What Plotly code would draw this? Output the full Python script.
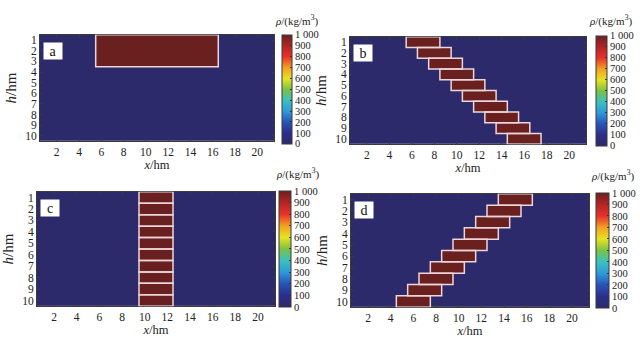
import plotly.graph_objects as go

# ---------------- data ----------------
x_cells = list(range(1, 22))          # x/hm cell centres
h_cells = list(range(1, 11))          # h/hm cell centres
rho_bg = 0
rho_block = 1000

a_rows = [1, 2, 3]
a_start = 6
a_end = 16

b_start = [6, 7, 8, 9, 10, 11, 12, 13, 14, 15]
c_start = [10, 10, 10, 10, 10, 10, 10, 10, 10, 10]
d_start = [14, 13, 12, 11, 10, 9, 8, 7, 6, 5]
block_width = 3

x_ticks = [2, 4, 6, 8, 10, 12, 14, 16, 18, 20]
h_ticks = [1, 2, 3, 4, 5, 6, 7, 8, 9, 10]
cb_ticks = [0, 100, 200, 300, 400, 500, 600, 700, 800, 900, 1000]
cb_ticktext = ["0", "100", "200", "300", "400", "500", "600", "700", "800", "900", "1 000"]
panel_labels = ["a", "b", "c", "d"]

# ---------------- build grids ----------------
def grid_from_rows(starts, width):
    z = []
    for i, h in enumerate(h_cells):
        row = []
        for x in x_cells:
            row.append(rho_block if starts[i] <= x < starts[i] + width else rho_bg)
        z.append(row)
    return z

z_a = []
for h in h_cells:
    z_a.append([rho_block if (h in a_rows and a_start <= x <= a_end) else rho_bg for x in x_cells])
z_b = grid_from_rows(b_start, block_width)
z_c = grid_from_rows(c_start, block_width)
z_d = grid_from_rows(d_start, block_width)

W, H = 640, 339
colorscale = [
    [0.00, "#2c2a6a"],
    [0.10, "#2b2f8c"],
    [0.20, "#2a52b8"],
    [0.30, "#2d9ad8"],
    [0.40, "#3cc0c0"],
    [0.50, "#7cc244"],
    [0.60, "#e6e222"],
    [0.70, "#f2a022"],
    [0.80, "#e8322a"],
    [0.90, "#b42424"],
    [1.00, "#6b2020"],
]

# pixel layouts: (left, right, top, bottom), colorbar (left, width, top, bottom)
panels = [
    dict(z=z_a, box=(40, 274, 34, 141), cb=(282, 10, 34, 143), title=(296, 20)),
    dict(z=z_b, box=(350, 586, 36, 144), cb=(596, 11, 35, 145), title=(610, 20)),
    dict(z=z_c, box=(37, 275, 192, 307), cb=(279, 12, 191, 307), title=(297, 174)),
    dict(z=z_d, box=(351, 589, 194, 308), cb=(596, 13, 193, 308), title=(612, 176)),
]

fig = go.Figure()
font_fam = "Liberation Serif, Times New Roman, serif"
frame_col = "#3a3a3a"

for k, p in enumerate(panels):
    ax = "" if k == 0 else str(k + 1)
    l, r, t, b = p["box"]
    cl, cw, ct, cb_ = p["cb"]
    fig.add_trace(go.Heatmap(
        z=p["z"], x=x_cells, y=h_cells,
        xaxis="x" + ax, yaxis="y" + ax,
        zmin=0, zmax=1000, colorscale=colorscale,
        showscale=True, hoverinfo="skip",
        colorbar=dict(
            x=cl / W, xanchor="left", xpad=0, ypad=0,
            y=1 - ct / H, yanchor="top",
            len=cb_ - ct, lenmode="pixels",
            thickness=cw, thicknessmode="pixels",
            tickvals=cb_ticks, ticktext=cb_ticktext,
            ticks="inside", ticklen=2, tickcolor="#333",
            outlinecolor=frame_col, outlinewidth=1,
            tickfont=dict(family=font_fam, size=10.5, color="#222"),
        ),
    ))
    fig.update_layout({
        "xaxis" + ax: dict(
            domain=[l / W, r / W], anchor="y" + ax, range=[0.5, 21.5],
            tickvals=x_ticks, ticks="inside", ticklen=3, tickcolor=frame_col,
            showline=True, linecolor=frame_col, linewidth=1, mirror="ticks",
            showgrid=False, zeroline=False,
            tickfont=dict(family=font_fam, size=11.5, color="#222"),
            title=dict(text="<i>x</i>/hm", standoff=2,
                       font=dict(family=font_fam, size=12.5, color="#222")),
        ),
        "yaxis" + ax: dict(
            domain=[1 - b / H, 1 - t / H], anchor="x" + ax, range=[10.5, 0.5],
            tickvals=h_ticks, ticks="inside", ticklen=3, tickcolor=frame_col,
            showline=True, linecolor=frame_col, linewidth=1, mirror="ticks",
            showgrid=False, zeroline=False,
            tickfont=dict(family=font_fam, size=11.5, color="#222"),
            title=dict(text="<i>h</i>/hm", standoff=4,
                       font=dict(family=font_fam, size=15, color="#222")),
        ),
    })
    # colorbar title
    tx, ty = p["title"]
    fig.add_annotation(
        text="<i>ρ</i>/(kg/m<sup>3</sup>)", xref="paper", yref="paper",
        x=tx / W, y=1 - ty / H, xanchor="center", yanchor="middle",
        showarrow=False, font=dict(family=font_fam, size=11, color="#222"),
    )
    # panel label
    fig.add_annotation(
        text=panel_labels[k], xref="x" + ax + " domain", yref="y" + ax + " domain",
        x=3 / (r - l), y=1 - 7 / (b - t), xanchor="left", yanchor="top",
        width=18, height=16, bgcolor="white", borderpad=0, showarrow=False,
        font=dict(family=font_fam, size=14, color="#111"),
    )

# outlines of anomalous blocks
outline = dict(color="#ecd6dc", width=1.5)
fig.add_shape(type="rect", xref="x", yref="y",
              x0=a_start - 0.5, x1=a_end + 0.5,
              y0=min(a_rows) - 0.5, y1=max(a_rows) + 0.5, line=outline)
for ax, starts in (("2", b_start), ("3", c_start), ("4", d_start)):
    for i, h in enumerate(h_cells):
        fig.add_shape(type="rect", xref="x" + ax, yref="y" + ax,
                      x0=starts[i] - 0.5, x1=starts[i] + block_width - 0.5,
                      y0=h - 0.5, y1=h + 0.5, line=outline)

fig.update_layout(
    width=W, height=H, margin=dict(l=0, r=0, t=0, b=0),
    paper_bgcolor="white", plot_bgcolor="white", showlegend=False,
)
fig.write_html(
    "out.html",
    config={"displayModeBar": False},
    post_script="document.body.style.margin='0';document.body.style.overflow='hidden';",
)
